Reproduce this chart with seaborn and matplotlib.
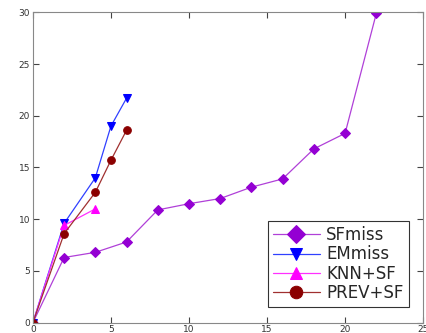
import pandas as pd
import matplotlib
matplotlib.use("Agg")
import matplotlib.pyplot as plt
import seaborn as sns

# data
sf_x = [0, 2, 4, 6, 8, 10, 12, 14, 16, 18, 20, 22]
sf_y = [0, 6.3, 6.8, 7.8, 10.9, 11.5, 12.0, 13.1, 13.9, 16.8, 18.3, 29.9]
em_x = [0, 2, 4, 5, 6]
em_y = [0, 9.6, 14.0, 19.0, 21.7]
knn_x = [0, 2, 4]
knn_y = [0, 9.4, 11.0]
prev_x = [0, 2, 4, 5, 6]
prev_y = [0, 8.6, 12.6, 15.7, 18.6]

series = [
    ("SFmiss", sf_x, sf_y, "D", "#9400D3", "#B040D8"),
    ("EMmiss", em_x, em_y, "v", "#0000FF", "#3040FF"),
    ("KNN+SF", knn_x, knn_y, "^", "#FF00FF", "#FF30FF"),
    ("PREV+SF", prev_x, prev_y, "o", "#8B0000", "#A03030"),
]

sns.set_style("white")
plt.rcParams['font.family'] = ['DejaVu Sans']

fig = plt.figure(figsize=(4.27, 3.33), dpi=100)
ax = fig.add_axes([0.077, 0.031, 0.914, 0.932])

for name, xs, ys, mk, mc, lc in series:
    df = pd.DataFrame({"x": xs, "y": ys})
    sns.lineplot(data=df, x="x", y="y", ax=ax, label=name, color=lc,
                 marker=mk, markersize=5.5, markerfacecolor=mc,
                 markeredgecolor=mc, linewidth=0.9, sort=False)

ax.set_xlim(0, 25)
ax.set_ylim(0, 30)
ax.set_xticks([0, 5, 10, 15, 20, 25])
ax.set_yticks([0, 5, 10, 15, 20, 25, 30])
ax.set_xlabel("")
ax.set_ylabel("")
ax.tick_params(direction="in", length=4, width=0.8, labelsize=6.5,
               color="#444444", labelcolor="#333333",
               top=True, right=True, bottom=True, left=True,
               labeltop=False, labelright=False, pad=2)
for sp in ax.spines.values():
    sp.set_color("#888888")
    sp.set_linewidth(0.8)

leg = ax.legend(loc="lower right", bbox_to_anchor=(0.963, 0.05), fontsize=12,
                frameon=True, fancybox=False, edgecolor="black",
                handlelength=2.8, borderpad=0.3, labelspacing=0.08,
                handletextpad=0.4, borderaxespad=0)
leg.get_frame().set_linewidth(0.8)
for h in leg.legend_handles:
    h.set_markersize(9)

fig.savefig("out.png", dpi=100)
